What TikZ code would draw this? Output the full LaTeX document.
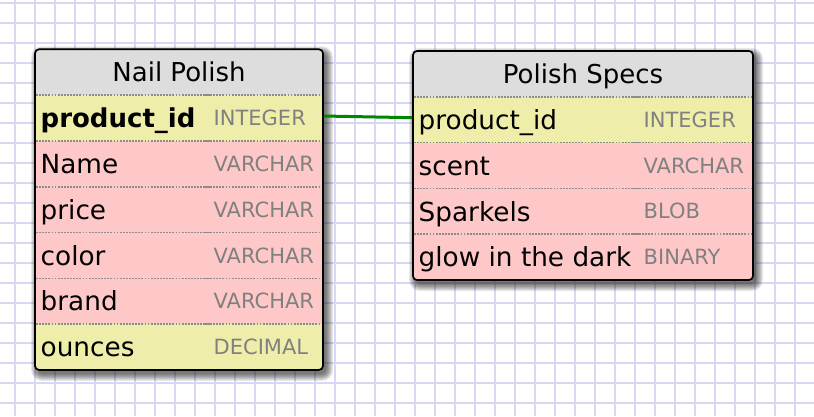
\documentclass[tikz,border=0pt]{standalone}
\usepackage{fontspec}
\setmainfont{DejaVu Sans}
\definecolor{gridc}{RGB}{216,216,244}
\definecolor{hdrc}{RGB}{221,221,221}
\definecolor{yelc}{RGB}{238,238,170}
\definecolor{pkc}{RGB}{255,200,200}
\definecolor{typec}{RGB}{128,128,128}
\definecolor{divc}{RGB}{140,140,140}
\definecolor{linkc}{RGB}{0,135,0}
\begin{document}
\begin{tikzpicture}[x=1pt,y=-1pt,
  gridline/.style={draw=gridc, line width=1.7pt},
  band/.style={inner sep=0pt, outer sep=0pt, minimum height=45.8pt, anchor=north west, draw=none},
  colname/.style={anchor=base west, inner sep=0pt, font=\fontsize{26.3}{30}\selectfont, text=black},
  coltype/.style={anchor=base west, inner sep=0pt, font=\fontsize{21}{25}\selectfont, text=typec},
  tabtitle/.style={anchor=base, inner sep=0pt, font=\fontsize{26}{30}\selectfont, text=black},
  divider/.style={draw=divc, line width=1.6pt, dash pattern=on 1.8pt off 1.3pt},
  divsolid/.style={draw=divc, line width=1.6pt},
  tableborder/.style={draw=black, line width=1.7pt, rounded corners=4pt},
  link/.style={draw=linkc, line width=3pt}]
\useasboundingbox (0,0) rectangle (814,416);
\fill[white] (0,0) rectangle (814,416);
% grid
\foreach \x in {15,35,...,795} \draw[gridline] (\x,0) -- (\x,416);
\foreach \y in {3,23,...,403} \draw[gridline] (0,\y) -- (814,\y);
% shadows
\foreach \k in {0,...,7}{
  \pgfmathsetmacro\rr{4+\k}
  \fill[black, opacity=0.085, rounded corners=\rr pt] (35+3-\k,49.3+4-\k) rectangle (323+3+\k,369.9+4+\k);
  \fill[black, opacity=0.085, rounded corners=\rr pt] (413+3-\k,51+4-\k) rectangle (753+3+\k,280+4+\k);
}
% ---------- Table 1: Nail Polish ----------
\begin{scope}
\clip[rounded corners=4pt] (35,49.3) rectangle (323,369.9);
\node[band, fill=hdrc, minimum width=288pt] (np-head) at (35,49.3) {};
\node[band, fill=yelc, minimum width=288pt] (np-pid) at (35,95.1) {};
\node[band, fill=pkc, minimum width=288pt] (np-name) at (35,140.9) {};
\node[band, fill=pkc, minimum width=288pt] (np-price) at (35,186.7) {};
\node[band, fill=pkc, minimum width=288pt] (np-color) at (35,232.5) {};
\node[band, fill=pkc, minimum width=288pt] (np-brand) at (35,278.3) {};
\node[band, fill=yelc, minimum width=288pt] (np-ounces) at (35,324.1) {};
\end{scope}
\foreach \y in {95.1,140.9,186.7,232.5,278.3,324.1}{
  \draw[divider] (36,\y) -- (203,\y);
  \draw[divsolid] (203,\y) -- (210,\y);
  \draw[divider] (210,\y) -- (322,\y);
}
% ---------- Table 2: Polish Specs ----------
\begin{scope}
\clip[rounded corners=4pt] (413,51) rectangle (753,280);
\node[band, fill=hdrc, minimum width=340pt] (ps-head) at (413,51) {};
\node[band, fill=yelc, minimum width=340pt] (ps-pid) at (413,96.8) {};
\node[band, fill=pkc, minimum width=340pt] (ps-scent) at (413,142.6) {};
\node[band, fill=pkc, minimum width=340pt] (ps-spark) at (413,188.4) {};
\node[band, fill=pkc, minimum width=340pt] (ps-glow) at (413,234.2) {};
\end{scope}
\foreach \y in {96.8,142.6,188.4,234.2}{
  \draw[divider] (414,\y) -- (632,\y);
  \draw[divsolid] (632,\y) -- (639,\y);
  \draw[divider] (639,\y) -- (752,\y);
}
% connector
\draw[link] ([yshift=2pt]np-pid.east) -- ([yshift=2pt]ps-pid.west);
% borders
\draw[tableborder] (35,49.3) rectangle (323,369.9);
\draw[tableborder] (413,51) rectangle (753,280);
% texts table 1
\node[tabtitle] (np-title) at (179,81.9) {Nail Polish};
\node[colname, font=\fontsize{26}{30}\selectfont\bfseries] (np-pid-n) at (40.5,127.7) {product\_id};
\node[coltype] (np-pid-t) at (213.5,125.6) {INTEGER};
\node[colname] (np-name-n) at (40.5,173.5) {Name};
\node[coltype] (np-name-t) at (213.5,171.4) {VARCHAR};
\node[colname] (np-price-n) at (40.5,219.3) {price};
\node[coltype] (np-price-t) at (213.5,217.2) {VARCHAR};
\node[colname] (np-color-n) at (40.5,265.1) {color};
\node[coltype] (np-color-t) at (213.5,263.0) {VARCHAR};
\node[colname] (np-brand-n) at (40.5,310.9) {brand};
\node[coltype] (np-brand-t) at (213.5,308.8) {VARCHAR};
\node[colname] (np-ounces-n) at (40.5,356.7) {ounces};
\node[coltype] (np-ounces-t) at (213.5,354.6) {DECIMAL};
% texts table 2
\node[tabtitle] (ps-title) at (583,83.6) {Polish Specs};
\node[colname] (ps-pid-n) at (418.5,129.4) {product\_id};
\node[coltype] (ps-pid-t) at (643.5,127.3) {INTEGER};
\node[colname] (ps-scent-n) at (418.5,175.2) {scent};
\node[coltype] (ps-scent-t) at (643.5,173.1) {VARCHAR};
\node[colname] (ps-spark-n) at (418.5,221.0) {Sparkels};
\node[coltype] (ps-spark-t) at (643.5,218.9) {BLOB};
\node[colname] (ps-glow-n) at (418.5,266.8) {glow in the dark};
\node[coltype] (ps-glow-t) at (643.5,264.7) {BINARY};
\end{tikzpicture}
\end{document}
